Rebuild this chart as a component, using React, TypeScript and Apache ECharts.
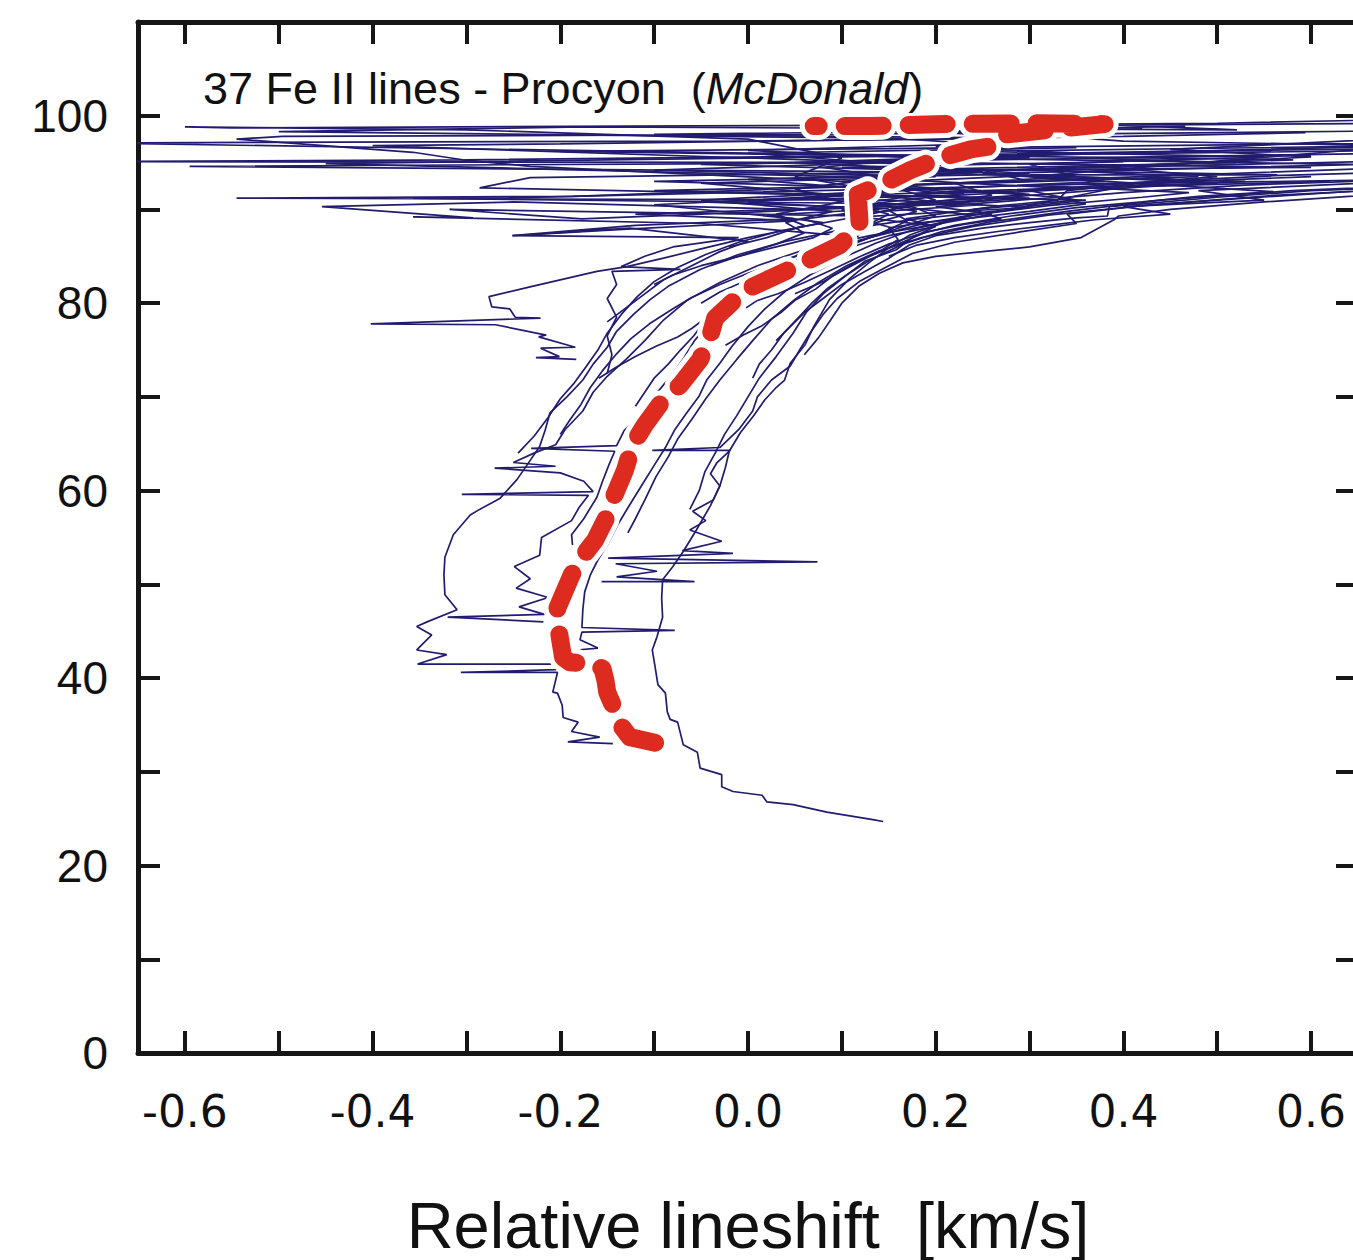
import React, { useEffect, useRef } from "react";
import * as echarts from "echarts";

type Pt = [number, number];

// ---- bisector data: [relative lineshift (km/s), depth (%)] ----
const line01: Pt[] = [[0.144,24.7],[0.133,24.9],[0.084,25.7],[0.048,26.5],[0.020,26.8],[0.015,27.5],[-0.016,27.9],[-0.028,28.4],[-0.028,29.7],[-0.051,30.4],[-0.054,32.1],[-0.069,32.9],[-0.075,35.3],[-0.083,35.6],[-0.086,36.4],[-0.088,38.4],[-0.096,39.3],[-0.099,41.2],[-0.102,43.0],[-0.097,44.4],[-0.091,46.5],[-0.092,48.5],[-0.091,50.5],[-0.080,51.9],[-0.069,53.5],[-0.055,55.8],[-0.040,58.4],[-0.030,60.5],[-0.024,62.5],[-0.020,64.2],[-0.008,66.2],[0.006,68.0],[0.018,69.7],[0.030,71.0],[0.039,71.8],[0.045,73.6],[0.061,75.6],[0.070,77.5],[0.087,80.4],[0.108,82.6],[0.130,84.4],[0.150,85.9],[0.173,87.3],[0.226,89.2],[0.282,90.0],[0.322,90.9],[0.397,92.4],[0.482,93.2],[0.560,93.6],[0.700,94.0]];
const line02: Pt[] = [[-0.144,33.0],[-0.192,33.2],[-0.158,33.7],[-0.188,34.3],[-0.181,35.3],[-0.197,35.8],[-0.198,37.1],[-0.203,38.4],[-0.208,38.5],[-0.203,40.6],[-0.306,40.6],[-0.205,40.9],[-0.200,41.6],[-0.182,43.0],[-0.160,43.2],[-0.179,44.1],[-0.177,44.9],[-0.078,45.1],[-0.177,45.4],[-0.176,47.3],[-0.174,49.2],[-0.168,51.0],[-0.160,52.6],[-0.150,54.2],[-0.138,56.5],[-0.126,58.5],[-0.113,60.6],[-0.100,62.7],[-0.088,64.6],[-0.078,66.5],[-0.066,68.2],[-0.052,70.1],[-0.044,71.8],[-0.030,73.6],[-0.017,75.4],[0.000,77.5],[0.018,79.4],[0.040,81.3],[0.066,83.0],[0.100,84.8],[0.136,86.4],[0.180,88.0],[0.240,89.4],[0.320,90.4],[0.420,91.3],[0.470,91.8],[0.300,92.6],[0.700,93.2]];
const line03: Pt[] = [[-0.208,41.5],[-0.352,41.5],[-0.321,42.5],[-0.353,43.0],[-0.337,44.6],[-0.353,45.5],[-0.342,46.0],[-0.310,47.3],[-0.323,48.9],[-0.324,51.0],[-0.323,52.9],[-0.314,55.3],[-0.296,57.4],[-0.286,58.0],[-0.264,59.2],[-0.256,60.1],[-0.246,61.2],[-0.235,62.8],[-0.222,64.7],[-0.216,66.5],[-0.211,68.3],[-0.193,70.0],[-0.176,71.8],[-0.165,73.5],[-0.150,75.3],[-0.140,77.0],[-0.122,78.8],[-0.104,80.4],[-0.085,81.8],[-0.051,83.6],[-0.010,85.2],[0.040,86.6],[0.098,87.8],[0.180,89.0],[0.300,90.2],[0.150,91.0],[-0.545,91.2],[-0.187,91.4],[0.100,92.4],[0.450,93.6],[0.300,94.3],[0.700,95.2]];
const line04: Pt[] = [[-0.218,46.0],[-0.320,46.5],[-0.217,46.8],[-0.244,47.6],[-0.213,48.6],[-0.247,49.6],[-0.232,50.6],[-0.249,51.9],[-0.222,53.1],[-0.220,55.0],[-0.188,56.8],[-0.180,58.2],[-0.170,59.5],[-0.305,59.6],[-0.165,59.9],[-0.175,61.0],[-0.200,61.9],[-0.270,62.4],[-0.205,62.6],[-0.250,63.0],[-0.228,64.0],[-0.205,64.9],[-0.195,66.5],[-0.176,68.5],[-0.165,70.5],[-0.150,72.2],[-0.130,74.0],[-0.110,76.0],[-0.090,78.2],[-0.065,80.3],[-0.030,82.2],[0.010,84.0],[0.060,85.7],[0.130,87.2],[0.200,88.4],[0.260,89.5],[0.200,90.3],[0.330,91.3],[0.100,93.0],[-0.232,94.6],[-0.304,95.3],[-0.357,96.1],[-0.545,97.5],[-0.496,97.8],[0.100,98.0],[0.300,98.3]];
const line05: Pt[] = [[-0.156,50.3],[-0.057,50.3],[-0.140,50.8],[-0.097,51.4],[-0.141,52.2],[0.074,52.4],[-0.149,52.8],[-0.016,53.3],[-0.070,53.6],[-0.028,54.6],[-0.062,55.8],[-0.045,56.8],[-0.059,57.8],[-0.037,59.0],[-0.030,60.5],[-0.040,61.8],[-0.033,63.0],[-0.019,64.3],[-0.102,64.3],[-0.030,64.6],[-0.010,66.5],[0.005,68.5],[0.010,70.0],[0.025,71.8],[0.045,73.3],[0.055,75.0],[0.066,76.8],[0.080,78.8],[0.095,80.5],[0.120,82.4],[0.150,84.0],[0.175,85.3],[0.220,86.5],[0.290,87.6],[0.350,88.5],[0.340,89.5],[0.420,90.4],[0.530,91.2],[0.700,92.3]];
const line06: Pt[] = [[-0.187,54.2],[-0.188,55.3],[-0.175,57.0],[-0.161,59.3],[-0.155,61.0],[-0.148,62.8],[-0.142,64.2],[-0.231,64.5],[-0.140,64.8],[-0.132,66.4],[-0.120,67.6],[-0.106,69.5],[-0.094,70.8],[-0.080,72.5],[-0.068,74.2],[-0.057,76.0],[-0.044,77.6],[-0.028,79.4],[-0.005,81.0],[0.020,82.6],[0.045,84.0],[0.075,85.2],[0.110,86.5],[0.150,87.5],[0.190,88.6],[0.240,89.4],[0.160,90.3],[0.300,91.2],[-0.100,92.0],[0.250,92.8],[0.480,93.5]];
const line07: Pt[] = [[-0.128,55.5],[-0.120,57.0],[-0.110,59.0],[-0.098,61.5],[-0.085,63.6],[-0.075,65.5],[-0.060,67.6],[-0.045,69.8],[-0.030,71.8],[-0.012,74.0],[0.005,76.0],[0.025,78.3],[0.050,80.4],[0.075,82.2],[0.105,84.0],[0.140,85.6],[0.185,87.0],[0.240,88.2],[0.320,89.4],[0.430,90.5],[0.560,91.5],[0.700,92.2]];
const line08: Pt[] = [[-0.062,58.0],[-0.052,60.0],[-0.046,62.0],[-0.035,64.0],[-0.025,66.0],[-0.012,68.0],[0.000,70.0],[0.012,72.0],[0.030,74.3],[0.048,76.8],[0.062,79.0],[0.080,81.0],[0.105,83.0],[0.130,84.6],[0.165,86.3],[0.205,87.6],[0.260,88.7],[0.340,89.8],[0.440,91.0],[0.580,92.0],[0.700,92.5]];
const line09: Pt[] = [[-0.159,72.0],[-0.140,73.2],[-0.120,74.3],[-0.098,75.4],[-0.075,76.4],[-0.060,77.3],[-0.040,78.8],[-0.020,80.2],[0.010,81.8],[0.040,83.3],[0.075,84.8],[0.110,86.0],[0.150,87.2],[0.200,88.2],[0.120,89.2],[0.280,90.1],[0.360,91.0],[-0.286,92.3],[-0.232,93.4],[0.200,94.0],[0.581,95.3],[0.000,96.0],[0.350,96.6]];
const line10: Pt[] = [[-0.245,64.0],[-0.228,65.8],[-0.213,67.8],[-0.200,69.8],[-0.185,71.5],[-0.172,73.3],[-0.160,75.0],[-0.150,76.8],[-0.135,78.8],[-0.118,80.7],[-0.100,82.3],[-0.075,83.8],[-0.045,85.2],[-0.010,86.5],[0.030,87.6],[0.080,88.6],[0.020,89.4],[0.150,90.1],[-0.050,90.8],[0.220,91.5],[0.350,92.2],[0.100,93.5],[-0.450,94.9],[0.100,95.6],[0.700,96.3]];
const line11: Pt[] = [[-0.150,72.5],[-0.145,74.5],[-0.150,76.5],[-0.140,78.5],[-0.150,80.5],[-0.140,82.0],[-0.145,83.4],[-0.072,83.6],[-0.135,83.9],[-0.110,85.0],[-0.080,86.0],[-0.010,87.0],[-0.251,87.2],[-0.129,87.9],[0.050,88.8],[-0.120,89.5],[0.100,90.2],[0.250,91.0],[0.180,91.6],[0.400,92.4],[0.620,93.0]];
const line12: Pt[] = [[-0.183,74.0],[-0.226,74.2],[-0.201,74.3],[-0.221,75.2],[-0.184,75.3],[-0.223,76.4],[-0.215,76.6],[-0.269,77.7],[-0.402,77.8],[-0.221,78.4],[-0.248,78.5],[-0.254,79.4],[-0.273,79.6],[-0.276,80.7],[-0.230,81.8],[-0.161,83.4],[-0.129,83.9],[-0.090,84.8],[-0.050,85.8],[0.000,87.0],[0.060,88.2],[0.120,89.3],[-0.318,90.0],[-0.177,89.0],[0.200,90.5],[0.300,91.5],[0.420,92.4],[0.530,93.0],[0.150,94.0],[-0.595,94.6],[0.000,94.9],[0.600,95.8]];
const line13: Pt[] = [[-0.002,79.5],[0.010,80.3],[0.032,81.0],[0.060,82.2],[0.090,83.6],[0.120,85.0],[0.150,86.3],[0.180,87.3],[0.220,88.3],[0.280,89.3],[0.350,90.2],[0.420,90.8],[0.480,91.4],[0.560,91.9],[0.300,93.5],[0.700,96.8]];
const line14: Pt[] = [[-0.024,75.5],[-0.005,76.6],[0.015,77.6],[0.035,79.0],[0.050,80.3],[0.072,81.5],[0.090,82.9],[0.112,84.2],[0.140,85.5],[0.160,86.8],[0.150,88.0],[0.185,88.6],[0.240,89.1],[0.300,89.8],[0.360,90.6],[0.330,91.2],[0.400,91.8],[0.530,92.6],[0.700,93.2]];
const line15: Pt[] = [[0.005,72.0],[0.012,73.5],[0.025,75.0],[0.038,76.8],[0.055,78.6],[0.068,80.0],[0.085,81.6],[0.105,83.0],[0.125,84.5],[0.158,85.7],[0.175,87.0],[0.200,88.2],[0.168,89.0],[0.210,89.6],[0.270,90.4],[0.330,91.0],[0.340,92.0],[0.420,92.8],[0.600,93.5]];
const line16: Pt[] = [[0.030,76.0],[0.045,77.5],[0.060,79.0],[0.080,80.5],[0.100,82.0],[0.125,83.4],[0.150,84.8],[0.172,86.2],[0.200,87.2],[0.250,88.0],[0.300,88.6],[0.350,89.1],[0.383,89.3],[0.385,90.3],[0.420,90.6],[0.500,91.3],[0.600,92.0],[0.700,92.4]];
const line17: Pt[] = [[0.060,74.5],[0.075,76.3],[0.088,78.2],[0.100,80.0],[0.118,81.8],[0.140,83.2],[0.165,84.3],[0.200,85.0],[0.250,85.5],[0.300,86.0],[0.355,87.0],[0.390,88.9],[0.395,89.3],[0.450,90.0],[0.550,90.8],[0.700,91.8]];
const line18: Pt[] = [[-0.080,70.5],[-0.070,72.5],[-0.055,74.5],[-0.045,76.5],[-0.030,78.3],[-0.010,80.0],[0.015,81.8],[0.045,83.5],[0.080,85.0],[0.110,86.3],[0.140,87.4],[0.170,88.8],[0.150,89.9],[0.190,90.8],[0.300,91.6],[0.250,92.0],[0.500,92.8],[0.420,93.5],[0.700,94.5]];
const line19: Pt[] = [[-0.120,69.0],[-0.110,70.5],[-0.100,72.0],[-0.085,73.5],[-0.072,75.0],[-0.058,76.5],[-0.045,78.2],[-0.025,80.0],[0.000,81.5],[0.030,83.0],[0.065,84.5],[0.100,85.8],[0.130,87.0],[0.155,88.0],[0.100,89.5],[0.250,90.5],[-0.357,91.2],[-0.275,91.2],[0.200,92.3],[0.464,93.0],[0.300,93.7],[0.564,93.7],[0.100,94.5],[0.400,95.1]];
const line20: Pt[] = [[-0.200,66.0],[-0.190,67.5],[-0.178,69.2],[-0.168,71.0],[-0.155,72.8],[-0.140,74.6],[-0.125,76.2],[-0.105,77.8],[-0.080,79.4],[-0.060,80.6],[-0.030,82.0],[0.000,83.2],[0.040,84.6],[0.080,86.0],[0.100,87.2],[-0.050,88.5],[-0.357,89.2],[-0.293,89.1],[-0.454,90.3],[-0.250,90.8],[0.050,90.0],[0.200,90.8],[0.120,91.8],[0.380,93.0],[0.250,93.8],[0.650,94.8],[0.200,95.5],[0.700,96.8]];
const line21: Pt[] = [[-0.050,80.0],[-0.030,81.2],[0.000,82.5],[0.030,83.6],[0.060,84.6],[0.085,85.5],[0.110,86.6],[0.125,87.8],[0.110,89.0],[0.160,90.2],[0.060,91.3],[0.250,92.0],[-0.100,93.0],[0.300,93.8],[0.000,96.0],[-0.700,97.1],[0.000,97.3],[0.300,97.6],[-0.100,98.0],[0.420,98.6]];
const line22: Pt[] = [[-0.040,84.0],[-0.010,85.0],[0.030,86.0],[0.070,87.0],[0.090,88.0],[0.060,89.0],[0.140,90.0],[0.000,90.8],[0.150,91.8],[0.050,93.5],[0.100,95.5],[0.000,97.5],[-0.300,98.5],[-0.600,98.8],[-0.550,98.7],[-0.130,98.9],[0.200,99.0],[0.500,99.2],[0.700,99.6]];
const line23: Pt[] = [[0.000,82.0],[0.020,83.3],[0.050,84.5],[0.080,85.8],[0.100,87.0],[0.120,88.5],[0.100,90.0],[0.200,91.0],[0.150,92.5],[0.300,93.0],[0.250,94.2],[0.600,94.5],[0.200,95.0],[-0.700,95.1],[-0.300,95.3],[0.200,95.8],[0.450,96.2],[0.700,96.5]];
const line24: Pt[] = [[0.020,84.0],[0.050,85.0],[0.080,86.5],[0.110,87.6],[0.140,88.7],[0.180,89.8],[0.130,90.6],[0.230,91.7],[0.120,92.8],[0.300,93.6],[0.200,94.3],[0.520,95.0],[0.350,95.5],[0.700,96.0]];
const line25: Pt[] = [[-0.100,82.0],[-0.080,83.0],[-0.050,84.0],[-0.010,85.0],[0.030,86.3],[0.060,87.5],[0.040,88.6],[0.090,89.8],[-0.050,91.0],[0.150,92.0],[0.000,93.2],[0.250,94.0],[-0.050,94.8],[0.300,95.5],[-0.200,96.2],[0.150,96.5],[0.600,97.0],[0.700,97.0]];
const line26: Pt[] = [[0.050,81.0],[0.080,82.3],[0.105,83.7],[0.130,85.0],[0.160,86.3],[0.190,87.6],[0.230,88.4],[0.270,89.0],[0.240,90.0],[0.350,91.0],[0.300,92.0],[0.500,93.5],[0.380,94.5],[0.600,95.6],[0.450,96.4],[0.700,97.6]];
const line27: Pt[] = [[-0.150,78.0],[-0.130,79.5],[-0.110,81.0],[-0.090,82.5],[-0.060,84.0],[-0.030,85.5],[0.000,86.6],[-0.126,88.0],[-0.251,87.2],[-0.120,88.3],[0.050,89.0],[-0.100,90.5],[0.100,91.5],[-0.050,92.8],[0.200,93.5],[-0.100,94.2],[0.150,95.0],[-0.400,96.8],[-0.200,97.0],[0.100,97.4],[0.400,97.8],[0.594,98.2]];
const line28: Pt[] = [[0.100,86.0],[0.130,87.0],[0.160,88.0],[0.200,89.3],[0.170,90.5],[0.260,91.5],[0.220,92.8],[0.350,93.5],[0.300,94.8],[0.550,95.6],[0.250,96.2],[0.700,96.8],[0.400,97.3],[0.300,98.0],[0.700,98.4]];
const line29: Pt[] = [[0.150,85.0],[0.180,86.2],[0.220,87.0],[0.270,87.7],[0.320,88.3],[0.370,88.9],[0.450,89.5],[0.400,90.3],[0.550,91.0],[0.480,92.0],[0.700,93.0]];
const line30: Pt[] = [[-0.020,86.0],[0.020,87.0],[0.060,88.3],[0.030,89.5],[0.100,90.8],[0.050,92.2],[0.150,93.4],[0.080,94.5],[0.180,95.5],[0.000,96.3],[0.250,97.0],[0.150,97.6],[-0.500,98.3],[-0.176,98.8],[0.521,98.5],[0.394,99.0],[0.700,99.2]];
const line31: Pt[] = [[0.060,85.5],[0.090,86.8],[0.120,88.0],[0.150,89.5],[0.110,90.5],[0.200,91.8],[0.100,93.0],[0.250,94.0],[0.050,95.0],[0.350,96.0],[0.200,96.7],[0.300,97.5],[0.200,98.3],[0.466,98.9]];

const bisectors: Pt[][] = [line01,line02,line03,line04,line05,line06,line07,line08,line09,line10,line11,line12,line13,line14,line15,line16,line17,line18,line19,line20,line21,line22,line23,line24,line25,line26,line27,line28,line29,line30,line31];

// mean bisector (red)
const meanBisector: Pt[] = [[-0.099,33.1],[-0.126,33.7],[-0.136,35.0],[-0.142,36.6],[-0.150,38.5],[-0.152,39.8],[-0.155,41.0],[-0.165,41.5],[-0.190,41.7],[-0.197,42.2],[-0.200,44.0],[-0.203,46.0],[-0.203,47.5],[-0.197,48.9],[-0.188,51.0],[-0.179,52.6],[-0.170,53.8],[-0.163,54.7],[-0.152,56.9],[-0.142,59.6],[-0.131,62.2],[-0.123,64.9],[-0.110,67.0],[-0.094,69.2],[-0.072,71.3],[-0.051,74.0],[-0.040,76.6],[-0.035,78.4],[-0.003,81.4],[0.055,84.1],[0.098,86.2],[0.119,88.4],[0.118,90.0],[0.117,91.6],[0.141,92.6],[0.173,94.2],[0.205,95.5],[0.237,96.4],[0.269,96.9],[0.275,98.0],[0.330,98.6],[0.380,99.1],[0.300,99.2],[0.200,99.1],[0.130,98.9],[0.070,98.9]];

const xTickValues = [-0.6,-0.5,-0.4,-0.3,-0.2,-0.1,0,0.1,0.2,0.3,0.4,0.5,0.6];
const xLabelValues = [-0.6,-0.4,-0.2,0,0.2,0.4,0.6];
const yTickValues = [10,20,30,40,50,60,70,80,90,100];
const yLabelValues = [0,20,40,60,80,100];
const annotationMain = "37 Fe II lines - Procyon\u00a0 (";
const annotationItalic = "McDonald";
const xAxisTitle = "Relative lineshift\u00a0 [km/s]";

const FONT = "'Liberation Sans', Arial, Helvetica, sans-serif";
const WIDE = "'DejaVu Sans', 'Liberation Sans', sans-serif";
const AXIS = "#161616";
const NAVY = "#221c6e";
const RED = "#dd2c1f";

export default function App() {
  const ref = useRef<HTMLDivElement>(null);
  useEffect(() => {
    const chart = echarts.init(ref.current as HTMLDivElement, null, { renderer: "svg" });
    const axisLine = { show: true, onZero: false, lineStyle: { color: AXIS, width: 5 } };
    const tickStyle = { color: AXIS, width: 4 };
    chart.setOption({
      animation: false,
      grid: { left: 138, top: 22, width: 1220, height: 1031, containLabel: false, outerBoundsMode: "none" },
      xAxis: [
        {
          type: "value", min: -0.65, max: 0.65, position: "bottom",
          axisLine,
          axisTick: { show: true, inside: true, length: 22, customValues: xTickValues, lineStyle: tickStyle },
          axisLabel: { show: true, customValues: xLabelValues, formatter: (v: number) => v.toFixed(1), margin: 36, fontSize: 44, color: "#111", fontFamily: WIDE },
          splitLine: { show: false },
        },
        {
          type: "value", min: -0.65, max: 0.65, position: "top",
          axisLine,
          axisTick: { show: true, inside: true, length: 22, customValues: xTickValues, lineStyle: tickStyle },
          axisLabel: { show: false },
          splitLine: { show: false },
        },
      ],
      yAxis: [
        {
          type: "value", min: 0, max: 110, position: "left",
          axisLine,
          axisTick: { show: true, inside: true, length: 22, customValues: yTickValues, lineStyle: tickStyle },
          axisLabel: { show: true, customValues: yLabelValues, margin: 30, fontSize: 46, color: "#111", fontFamily: FONT },
          splitLine: { show: false },
        },
        {
          type: "value", min: 0, max: 110, position: "right",
          axisLine,
          axisTick: { show: true, inside: true, length: 22, customValues: yTickValues, lineStyle: tickStyle },
          axisLabel: { show: false },
          splitLine: { show: false },
        },
      ],
      series: [
        ...bisectors.map((d) => ({
          type: "line", data: d, xAxisIndex: 0, yAxisIndex: 0, symbol: "none", showSymbol: false, silent: true, z: 2,
          lineStyle: { color: NAVY, width: 1.7 },
        })),
        {
          type: "line", data: meanBisector, symbol: "none", showSymbol: false, silent: true, z: 3,
          lineStyle: { color: "#ffffff", width: 28, type: [38, 26], cap: "round", join: "round" },
        },
        {
          type: "line", data: meanBisector, symbol: "none", showSymbol: false, silent: true, z: 4,
          lineStyle: { color: RED, width: 18, type: [38, 26], cap: "round", join: "round" },
        },
      ],
      graphic: [
        {
          type: "text", x: 203, y: 88, z: 10,
          style: {
            text: "{n|" + annotationMain + "}{i|" + annotationItalic + "}{n|)}",
            verticalAlign: "middle",
            rich: {
              n: { fontSize: 45, fontFamily: FONT, fill: "#111" },
              i: { fontSize: 45, fontFamily: FONT, fontStyle: "italic", fill: "#111" },
            },
          },
        },
        {
          type: "text", x: 748, y: 1225, z: 10,
          style: { text: xAxisTitle, fontSize: 65, fontFamily: FONT, fill: "#111", align: "center", verticalAlign: "middle" },
        },
      ],
    });
    return () => chart.dispose();
  }, []);
  return <div ref={ref} style={{ position: "absolute", left: 0, top: 0, width: 1353, height: 1260 }} />;
}
